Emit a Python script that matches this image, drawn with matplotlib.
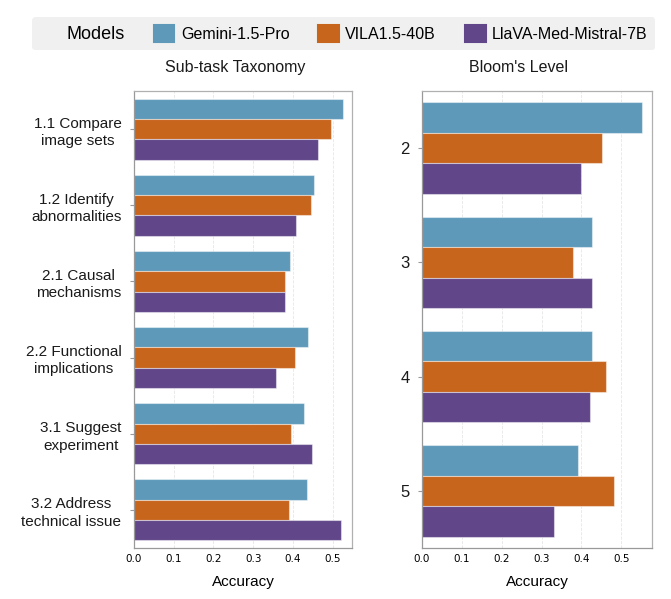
import matplotlib
matplotlib.use("Agg")
import matplotlib.pyplot as plt
import numpy as np
from matplotlib.patches import Patch

MODELS = ["Gemini-1.5-Pro", "VILA1.5-40B", "LlaVA-Med-Mistral-7B"]
COLORS = ["#5f99ba", "#c8651d", "#61478a"]

TASKS = [
  "1.1 Compare\nimage sets",
  "1.2 Identify\nabnormalities",
  "2.1 Causal\nmechanisms",
  "2.2 Functional\nimplications",
  "3.1 Suggest\nexperiment",
  "3.2 Address\ntechnical issue",
]
TASK_GEMINI = [0.527, 0.453, 0.392, 0.437, 0.429, 0.435]
TASK_VILA = [0.495, 0.445, 0.381, 0.406, 0.396, 0.391]
TASK_LLAVA = [0.463, 0.409, 0.381, 0.357, 0.448, 0.521]

LEVELS = ["2", "3", "4", "5"]
LEVEL_GEMINI = [0.553, 0.428, 0.426, 0.392]
LEVEL_VILA = [0.453, 0.379, 0.461, 0.483]
LEVEL_LLAVA = [0.398, 0.426, 0.423, 0.332]

FONT = ["Liberation Sans", "DejaVu Sans"]


def draw_panel(ax, cats, series, title, title_x, xmax, label_size):
  y = np.arange(len(cats))
  h = 0.8 / len(series)
  for i, (vals, color) in enumerate(zip(series, COLORS)):
    ax.barh(y - 0.4 + h * (i + 0.5), vals, height=h, color=color,
            edgecolor=(1, 1, 1, 0.45), linewidth=0.8, zorder=2)

  ax.set_ylim(len(cats) - 0.5, -0.5)
  ax.set_xlim(0, xmax)
  ax.set_xticks(np.arange(0, 0.51, 0.1))
  ax.set_xticklabels([f"{v:.1f}" for v in np.arange(0, 0.51, 0.1)],
                     fontsize=7.5, family="DejaVu Sans")
  ax.set_yticks(y)
  ax.set_yticklabels(cats, fontsize=label_size, family=FONT, color="#1a1a1a")
  for lab in ax.get_yticklabels():
    lab.set_multialignment("center")
    lab.set_linespacing(1.3)

  ax.grid(axis="x", color="#e6e6e6", linestyle="--", linewidth=0.6, zorder=0)
  ax.set_axisbelow(True)
  for side, spine in ax.spines.items():
    spine.set_color("#b0b0b0")
    spine.set_linewidth(0.9)
  ax.spines["left"].set_color("#999999")
  ax.spines["bottom"].set_color("#999999")
  ax.tick_params(axis="y", length=3, color="#999999", pad=6)
  ax.tick_params(axis="x", length=0, pad=4)

  ax.set_xlabel("Accuracy", fontsize=11, family=FONT, labelpad=8)
  ax.set_title(title, fontsize=11.5, family=FONT, x=title_x, pad=14,
               color="#1a1a1a")


def main():
  fig = plt.figure(figsize=(6.71, 5.99), dpi=100)
  ax1 = fig.add_axes([0.1997, 0.0851, 0.325, 0.763])
  ax2 = fig.add_axes([0.629, 0.0851, 0.343, 0.763])

  draw_panel(ax1, TASKS, [TASK_GEMINI, TASK_VILA, TASK_LLAVA],
             "Sub-task Taxonomy", 0.466, 0.549, 11)
  draw_panel(ax2, LEVELS, [LEVEL_GEMINI, LEVEL_VILA, LEVEL_LLAVA],
             "Bloom's Level", 0.417, 0.578, 12)

  handles = [Patch(visible=False)]
  handles += [Patch(facecolor=c, edgecolor=c, linewidth=1.5, joinstyle="round")
              for c in COLORS]
  labels = ["Models"] + MODELS
  leg = fig.legend(handles, labels, loc="center", bbox_to_anchor=(0.512, 0.944),
                   ncol=4, frameon=True, fancybox=True,
                   prop={"family": FONT, "size": 11.5},
                   handlelength=1.3, handleheight=1.3, handletextpad=0.4,
                   columnspacing=1.8, borderpad=0.45)
  frame = leg.get_frame()
  frame.set_facecolor("#f0f0f0")
  frame.set_edgecolor("none")
  frame.set_alpha(1)
  leg.get_texts()[0].set_fontsize(13)

  fig.savefig("out.png", dpi=100)
  plt.close(fig)


if __name__ == "__main__":
  main()
